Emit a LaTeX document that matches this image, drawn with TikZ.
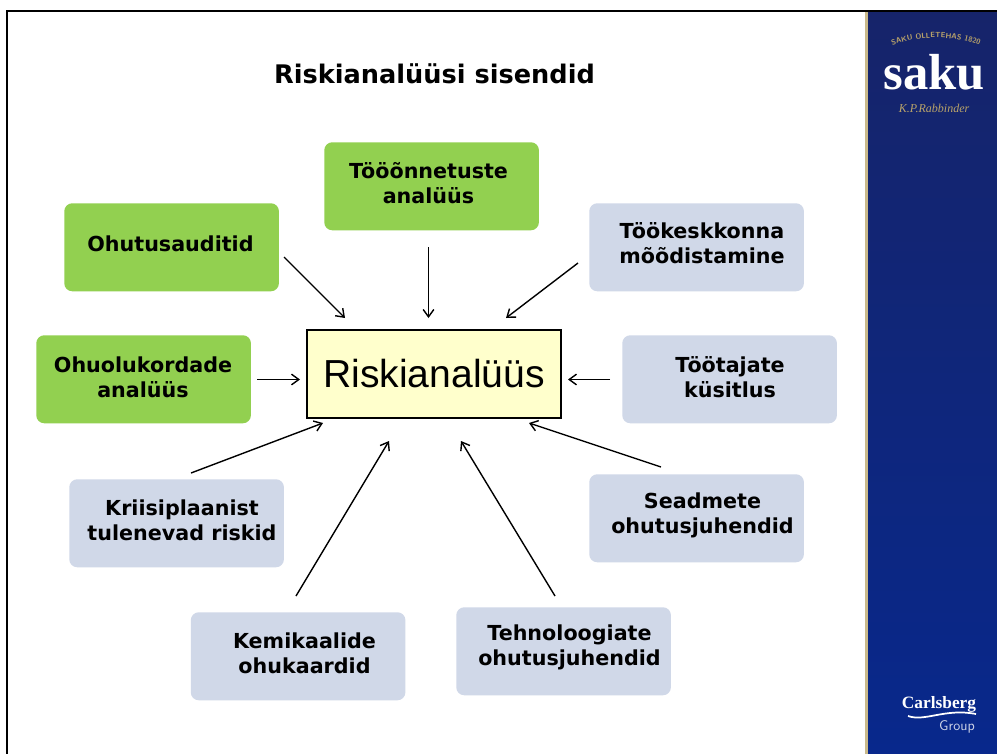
\documentclass[tikz,border=0pt]{standalone}
\usepackage{fontspec}
\setmainfont{Liberation Sans}
\newfontfamily\labelfont{DejaVu Sans}
\newfontfamily\logofont{Liberation Serif}
\usetikzlibrary{arrows.meta,decorations.text}
\definecolor{greenbox}{HTML}{92D050}
\definecolor{bluebox}{HTML}{D0D8E8}
\definecolor{centerfill}{HTML}{FFFFCC}
\definecolor{navytop}{HTML}{16246A}
\definecolor{navybottom}{HTML}{08288C}
\definecolor{tanstrip}{HTML}{C9B98A}
\definecolor{logogold}{HTML}{B9A36A}
\tikzset{
  x=0.75pt,y=-0.75pt,
  box/.style={rounded corners=6pt,minimum width=161pt,minimum height=66pt,inner sep=0pt,anchor=north west},
  greenb/.style={box,fill=greenbox},
  blueb/.style={box,fill=bluebox},
  lbl/.style={font=\labelfont\bfseries\fontsize{15.5pt}{18.7pt}\selectfont,align=center,text=black,inner sep=0pt},
  link/.style={draw=black,line width=1.05pt,-{Straight Barb[length=5.5pt,width=8pt]}},
}
\begin{document}
\begin{tikzpicture}
\useasboundingbox (0,0) rectangle (997,754);
\fill[white] (0,0) rectangle (997,754);
% side panel
\fill[tanstrip] (864.5,12) rectangle (869,754);
\shade[bottom color=navybottom,top color=navytop] (868,12) rectangle (997,754);
% frame
\draw[black,line width=1.6pt] (7,754) -- (7,11) -- (997,11);
% logos
\node[text=white,font=\logofont\bfseries\fontsize{38pt}{38pt}\selectfont,inner sep=0pt] (saku) at (934,72) {saku};
\path[decorate,decoration={text along path,text align=center,text={|\sffamily\bfseries\fontsize{5.6pt}{6pt}\selectfont\color{logogold}|SAKU OLLETEHAS 1820}}] (884,49) .. controls (915,34) and (957,34) .. (988,49);
\node[text=logogold,font=\logofont\itshape\fontsize{9pt}{9pt}\selectfont,inner sep=0pt] (sign) at (934,108) {K.P.Rabbinder};
\node[text=white,font=\logofont\bfseries\fontsize{13pt}{13pt}\selectfont,inner sep=0pt] (carls) at (939,704) {Carlsberg};
\draw[white,line width=1.3pt] (908,716) .. controls (925,722) and (945,708) .. (976,714);
\node[text=white!80!navybottom,font=\sffamily\fontsize{10.5pt}{11pt}\selectfont,inner sep=0pt] (group) at (957,727) {Group};
% title
\node[lbl,font=\labelfont\bfseries\fontsize{19.2pt}{22pt}\selectfont] (title) at (434.5,74) {Riskianalüüsi sisendid};
% boxes
\node[greenb] (b1) at (324,142) {};
\node[greenb] (b2) at (64,203) {};
\node[blueb] (b3) at (589,203) {};
\node[greenb] (b4) at (36,335) {};
\node[blueb] (b5) at (622,335) {};
\node[blueb] (b6) at (69,479) {};
\node[blueb] (b7) at (589,474) {};
\node[blueb] (b8) at (190.5,612) {};
\node[blueb] (b9) at (456,607) {};
% labels
\node[lbl] (t1) at (428.5,183) {Tööõnnetuste\\analüüs};
\node[lbl] (t2) at (170.5,244) {Ohutusauditid};
\node[lbl] (t3) at (702,243) {Töökeskkonna\\mõõdistamine};
\node[lbl] (t4) at (143,377) {Ohuolukordade\\analüüs};
\node[lbl] (t5) at (730,377) {Töötajate\\küsitlus};
\node[lbl] (t6) at (182,520) {Kriisiplaanist\\tulenevad riskid};
\node[lbl] (t7) at (702.5,515) {Seadmete\\ohutusjuhendid};
\node[lbl] (t8) at (304.5,653) {Kemikaalide\\ohukaardid};
\node[lbl] (t9) at (569.5,647) {Tehnoloogiate\\ohutusjuhendid};
% centre
\node[draw=black,line width=1.3pt,fill=centerfill,minimum width=191pt,minimum height=66.5pt,inner sep=0pt,font=\fontsize{29.3pt}{32pt}\selectfont] (main) at (434,374) {Riskianalüüs};
% connector ends
\coordinate (s1) at (428.5,247); \coordinate (e1) at (428.5,318);
\coordinate (s2) at (284,257);   \coordinate (e2) at (345,318);
\coordinate (s3) at (578,263);   \coordinate (e3) at (506,318);
\coordinate (s4) at (257,379.5); \coordinate (e4) at (300,379.5);
\coordinate (s5) at (610,379.5); \coordinate (e5) at (568,379.5);
\coordinate (s6) at (191,473);   \coordinate (e6) at (323,423);
\coordinate (s7) at (661,467);   \coordinate (e7) at (529,423);
\coordinate (s8) at (296,596);   \coordinate (e8) at (389,441);
\coordinate (s9) at (555,596);   \coordinate (e9) at (461,441);
\foreach \i in {1,...,9} {\draw[link] (s\i) -- (e\i);}
\end{tikzpicture}
\end{document}
